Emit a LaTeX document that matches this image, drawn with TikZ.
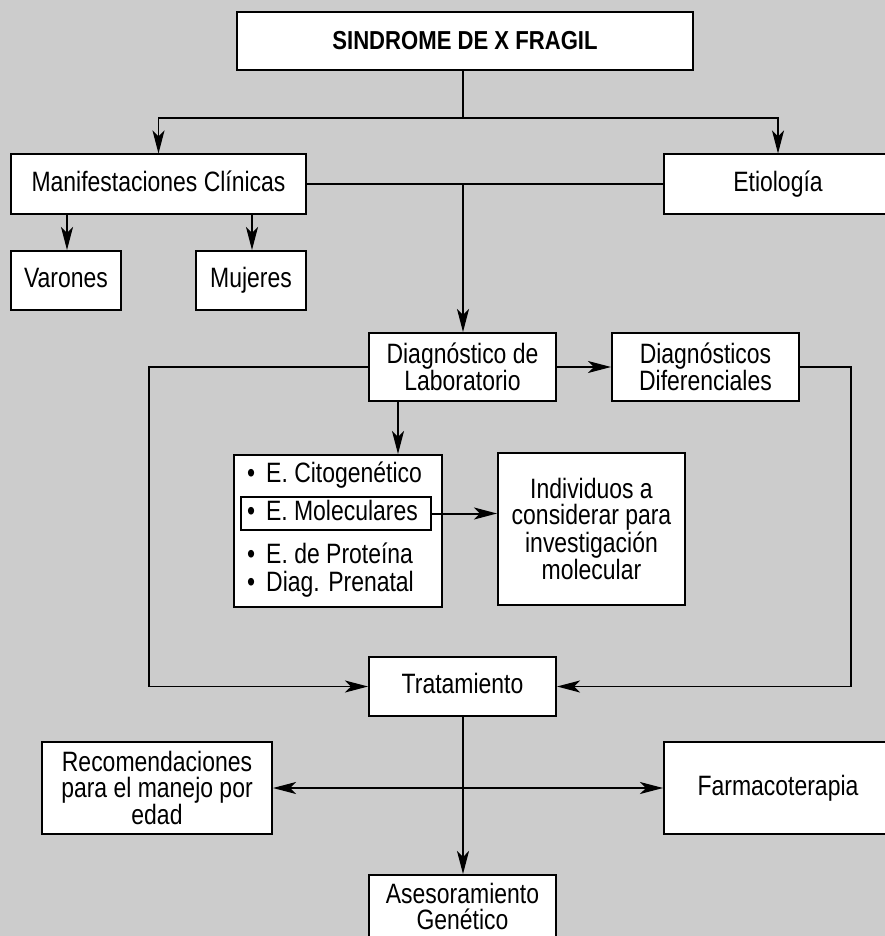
\documentclass[tikz,border=0pt]{standalone}
\usepackage{fontspec}
\setmainfont{Liberation Sans}[FakeStretch=0.82]
\newfontfamily\titlefont{Liberation Sans Bold}[FakeStretch=0.85]
\usetikzlibrary{arrows.meta}
\definecolor{graybg}{RGB}{204,204,204}
\begin{document}
\begin{tikzpicture}[x=1pt,y=-1pt,
  txt/.style={font=\fontsize{28}{26}\selectfont},
  box/.style={draw=black, line width=2pt, fill=white, inner sep=0pt, align=center, txt},
  one/.style={text height=20pt, text depth=6pt},
  conn/.style={line width=1.2pt},
  tip/.tip={Stealth[length=23pt,width=12pt,inset=6pt]},
  arr/.style={conn, -tip},
  darr/.style={conn, tip-tip},
  item/.style={inner sep=0pt, anchor=west, txt}]
\useasboundingbox (0,0) rectangle (885,936);
\fill[graybg] (0,0) rectangle (885,936);
\clip (0,0) rectangle (885,936);

% nodes
\node[box, minimum width=456pt, minimum height=58pt, font=\titlefont\fontsize{26}{26}\selectfont] (title) at (465,41) {SINDROME DE X FRAGIL};
\node[box, one, minimum width=295pt, minimum height=59pt] (manif) at (158.5,184) {Manifestaciones Clínicas};
\node[box, one, minimum width=228pt, minimum height=59pt] (etio) at (778,184) {Etiología};
\node[box, one, minimum width=110pt, minimum height=59pt] (varones) at (66,280.5) {Varones};
\node[box, one, minimum width=110pt, minimum height=59pt] (mujeres) at (251,280.5) {Mujeres};
\node[box, minimum width=187pt, minimum height=68pt] (diaglab) at (462.5,367) {Diagnóstico de\\Laboratorio};
\node[box, minimum width=187pt, minimum height=68pt] (dif) at (705.5,367) {Diagnósticos\\Diferenciales};
\node[box, minimum width=208pt, minimum height=152pt] (list) at (337.5,531) {};
\node[box, one, minimum width=190pt, minimum height=33pt, text width=178pt, align=flush left, inner xsep=6pt] (inner) at (336,513.5) {•\hspace{11pt}E. Moleculares};
\node[item] (cito) at (247,475) {•\hspace{11pt}E. Citogenético};
\node[item] (prot) at (247,553) {•\hspace{11pt}E. de Proteína};
\node[item] (pren) at (247,584) {•\hspace{11pt}Diag. Prenatal};
\node[box, minimum width=187pt, minimum height=152pt] (indiv) at (591.5,529) {Individuos a\\considerar para\\investigación\\molecular};
\node[box, one, minimum width=187pt, minimum height=59pt] (trat) at (462.5,686.5) {Tratamiento};
\node[box, minimum width=230pt, minimum height=92pt] (recom) at (157,788) {Recomendaciones\\para el manejo por\\edad};
\node[box, one, minimum width=228pt, minimum height=92pt] (farm) at (778,788) {Farmacoterapia};
\node[box, minimum width=187pt, minimum height=80pt] (ases) at (462.5,915) {};
\node[inner sep=0pt, align=center, txt] (asest) at (462.5,906) {Asesoramiento\\Genético};

% junctions
\coordinate (j1) at (463,118);
\coordinate (j2) at (463,184);
\coordinate (jl) at (149,367);
\coordinate (jr) at (851,367);
\coordinate (jv) at (67,213);
\coordinate (jm) at (252,213);
\coordinate (jd) at (398,401);

% connectors
\draw[conn] (title.south -| j1) -- (j1);
\draw[arr] (j1) -| (manif.north);
\draw[arr] (j1) -| (etio.north);
\draw[conn] (manif.east) -- (etio.west);
\draw[arr] (j2) -- (j2 |- diaglab.north);
\draw[arr] (jv) -- (jv |- varones.north);
\draw[arr] (jm) -- (jm |- mujeres.north);
\draw[arr] (diaglab.east) -- (dif.west);
\draw[arr] (diaglab.west) -- (jl) |- (trat.west);
\draw[arr] (dif.east) -- (jr) |- (trat.east);
\draw[arr] (jd) -- (jd |- list.north);
\draw[arr, line width=2pt] (inner.east) -- (inner.east -| indiv.west);
\draw[arr] (trat.south -| j1) -- (j1 |- ases.north);
\draw[darr] (recom.east) -- (farm.west);
\end{tikzpicture}
\end{document}
